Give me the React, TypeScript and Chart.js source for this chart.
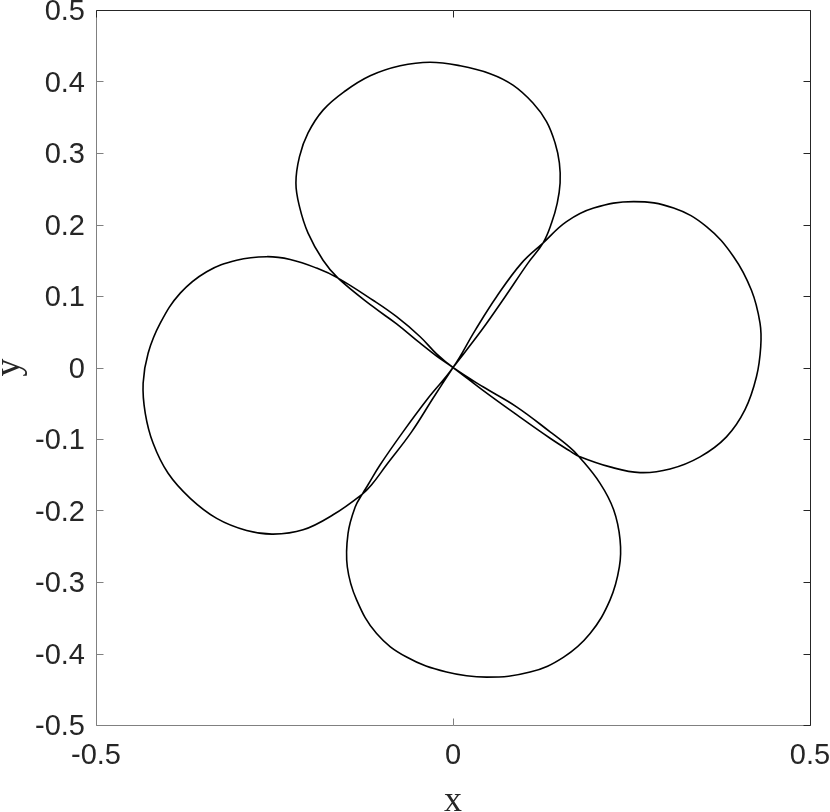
import React, { useEffect, useRef } from 'react';
import { Chart, registerables } from 'chart.js';

Chart.register(...registerables);

// Curve, one closed loop per lobe, each starting at the origin.
const topLobeX = [0, 0.040, 0.073, 0.105, 0.126, 0.138, 0.146, 0.150, 0.149, 0.143, 0.131, 0.112, 0.084, 0.052, 0.010, -0.032, -0.074, -0.116, -0.152, -0.182, -0.203, -0.215, -0.220, -0.215, -0.203, -0.182, -0.161, -0.112, -0.079, -0.046, -0.023];
const topLobeY = [0, 0.052, 0.099, 0.146, 0.174, 0.202, 0.230, 0.258, 0.286, 0.314, 0.344, 0.370, 0.395, 0.411, 0.422, 0.427, 0.422, 0.408, 0.386, 0.360, 0.328, 0.295, 0.258, 0.225, 0.188, 0.150, 0.125, 0.085, 0.061, 0.034, 0.016];

const rightLobeX = [0, 0.042, 0.089, 0.136, 0.164, 0.176, 0.220, 0.262, 0.304, 0.346, 0.383, 0.409, 0.425, 0.431, 0.430, 0.418, 0.393, 0.355, 0.309, 0.253, 0.197, 0.159, 0.126, 0.096, 0.061, 0.031];
const rightLobeY = [0, -0.032, -0.066, -0.099, -0.117, -0.124, -0.139, -0.147, -0.142, -0.125, -0.097, -0.059, -0.013, 0.029, 0.062, 0.108, 0.155, 0.197, 0.223, 0.232, 0.223, 0.204, 0.174, 0.146, 0.099, 0.052];

const bottomLobeX = [0, -0.035, -0.070, -0.102, -0.119, -0.127, -0.137, -0.147, -0.148, -0.135, -0.107, -0.065, -0.009, 0.047, 0.108, 0.155, 0.192, 0.220, 0.233, 0.234, 0.225, 0.206, 0.176, 0.164, 0.136, 0.089, 0.042];
const bottomLobeY = [0, -0.043, -0.090, -0.136, -0.164, -0.177, -0.195, -0.232, -0.279, -0.325, -0.372, -0.405, -0.426, -0.433, -0.426, -0.405, -0.372, -0.325, -0.279, -0.241, -0.199, -0.162, -0.124, -0.112, -0.090, -0.055, -0.027];

const leftLobeX = [0, -0.023, -0.046, -0.079, -0.112, -0.161, -0.191, -0.228, -0.261, -0.303, -0.345, -0.382, -0.410, -0.427, -0.434, -0.431, -0.420, -0.399, -0.368, -0.331, -0.289, -0.252, -0.210, -0.168, -0.127, -0.114, -0.093, -0.058, -0.028, 0];
const leftLobeY = [0, 0.019, 0.043, 0.071, 0.094, 0.125, 0.139, 0.151, 0.155, 0.150, 0.134, 0.104, 0.062, 0.020, -0.022, -0.064, -0.106, -0.148, -0.183, -0.211, -0.228, -0.233, -0.227, -0.206, -0.177, -0.164, -0.136, -0.090, -0.043, 0];

const xTickValues = [-0.5, 0, 0.5];
const xTickLabels = ['-0.5', '0', '0.5'];
const yTickValues = [-0.5, -0.4, -0.3, -0.2, -0.1, 0, 0.1, 0.2, 0.3, 0.4, 0.5];
const yTickLabels = ['-0.5', '-0.4', '-0.3', '-0.2', '-0.1', '0', '0.1', '0.2', '0.3', '0.4', '0.5'];

const xTitle = 'x';
const yTitle = 'y';

function zip(xs: number[], ys: number[]) {
  return xs.map((x, i) => ({ x, y: ys[i] }));
}

const framePlugin = {
  id: 'matlabFrame',
  afterDraw(chart: any) {
    const { ctx, chartArea } = chart;
    const { left, right, top, bottom } = chartArea;
    const xs = chart.scales.x;
    const ys = chart.scales.y;
    const tl = 7;
    const L = left + 0.5;
    const R = right + 0.5;
    const T = top + 0.5;
    const B = bottom + 0.5;
    ctx.save();
    ctx.lineWidth = 1;
    ctx.strokeStyle = '#808080';
    ctx.beginPath();
    ctx.moveTo(L, T);
    ctx.lineTo(L, B);
    ctx.lineTo(R, B);
    ctx.stroke();
    ctx.beginPath();
    ys.ticks.forEach((t: any) => {
      const p = Math.round(ys.getPixelForValue(t.value)) + 0.5;
      ctx.moveTo(L, p);
      ctx.lineTo(L + tl, p);
    });
    xs.ticks.forEach((t: any) => {
      const p = Math.round(xs.getPixelForValue(t.value)) + 0.5;
      ctx.moveTo(p, B);
      ctx.lineTo(p, B - tl);
    });
    ctx.stroke();
    ctx.strokeStyle = '#262626';
    ctx.beginPath();
    ctx.moveTo(L, T);
    ctx.lineTo(R, T);
    ctx.lineTo(R, B);
    ctx.stroke();
    ctx.beginPath();
    ys.ticks.forEach((t: any) => {
      const p = Math.round(ys.getPixelForValue(t.value)) + 0.5;
      ctx.moveTo(R, p);
      ctx.lineTo(R - tl, p);
    });
    xs.ticks.forEach((t: any) => {
      const p = Math.round(xs.getPixelForValue(t.value)) + 0.5;
      ctx.moveTo(p, T);
      ctx.lineTo(p, T + tl);
    });
    ctx.stroke();
    ctx.restore();
  },
};

export default function App() {
  const canvasRef = useRef<HTMLCanvasElement | null>(null);

  useEffect(() => {
    document.body.style.margin = '0';
    const canvas = canvasRef.current;
    if (!canvas) return;

    const points = [
      ...zip(topLobeX, topLobeY),
      ...zip(rightLobeX, rightLobeY),
      ...zip(bottomLobeX, bottomLobeY),
      ...zip(leftLobeX, leftLobeY),
    ];

    const tickFont = { family: '"Liberation Sans", Arial, Helvetica, sans-serif', size: 29 };
    const titleFamily = '"Liberation Serif", "Times New Roman", serif';

    const chart = new Chart(canvas, {
      type: 'scatter',
      data: {
        datasets: [
          {
            data: points,
            showLine: true,
            borderColor: '#000000',
            borderWidth: 1.6,
            pointRadius: 0,
            pointHoverRadius: 0,
            tension: 0.4,
            fill: false,
          },
        ],
      },
      options: {
        responsive: false,
        animation: false,
        devicePixelRatio: 1,
        layout: { padding: { top: 10, right: 20, left: 0, bottom: 0 } },
        plugins: {
          legend: { display: false },
          tooltip: { enabled: false },
        },
        events: [],
        scales: {
          x: {
            type: 'linear',
            position: 'bottom',
            min: -0.5,
            max: 0.5,
            grid: { display: false, drawTicks: false },
            border: { display: false },
            afterBuildTicks: (scale: any) => {
              scale.ticks = xTickValues.map((v) => ({ value: v }));
            },
            afterFit: (scale: any) => {
              scale.height = 87;
              scale.paddingLeft = 0;
              scale.paddingRight = 0;
              scale.paddingTop = 0;
              scale.paddingBottom = 0;
            },
            ticks: {
              autoSkip: false,
              maxRotation: 0,
              minRotation: 0,
              padding: 14,
              color: '#262626',
              font: tickFont,
              callback: (_v: any, i: number) => xTickLabels[i],
            },
            title: {
              display: true,
              text: xTitle,
              color: '#262626',
              font: { family: titleFamily, size: 36, lineHeight: 0.6 },
              padding: 0,
            },
          },
          y: {
            type: 'linear',
            position: 'left',
            min: -0.5,
            max: 0.5,
            grid: { display: false, drawTicks: false },
            border: { display: false },
            afterBuildTicks: (scale: any) => {
              scale.ticks = yTickValues.map((v) => ({ value: v }));
            },
            afterFit: (scale: any) => {
              scale.width = 96;
              scale.paddingLeft = 0;
              scale.paddingRight = 0;
              scale.paddingTop = 0;
              scale.paddingBottom = 0;
            },
            ticks: {
              autoSkip: false,
              padding: 11,
              labelOffset: 2,
              color: '#262626',
              font: tickFont,
              callback: (_v: any, i: number) => yTickLabels[i],
            },
            title: {
              display: true,
              text: yTitle,
              color: '#262626',
              font: { family: titleFamily, size: 36, lineHeight: 0.52 },
              padding: 0,
            },
          },
        },
      },
      plugins: [framePlugin],
    });

    return () => {
      chart.destroy();
    };
  }, []);

  return (
    <div style={{ width: 830, height: 812, position: 'relative', background: '#ffffff' }}>
      <canvas ref={canvasRef} width={830} height={812} style={{ display: 'block' }} />
    </div>
  );
}
